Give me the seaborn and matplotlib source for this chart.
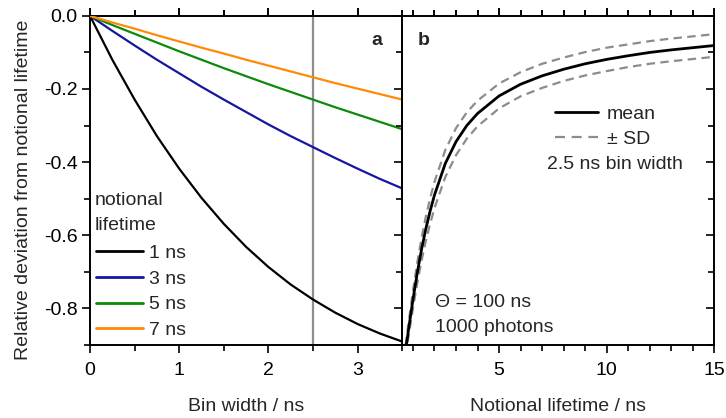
import numpy as np
import pandas as pd
import matplotlib
matplotlib.use("Agg")
import matplotlib.pyplot as plt
import matplotlib.transforms as mtransforms
import seaborn as sns
from matplotlib.ticker import MultipleLocator, FormatStrFormatter
from matplotlib.lines import Line2D

# ---------------- data ----------------
bin_width = [0, 0.25, 0.5, 0.75, 1.0, 1.25, 1.5, 1.75, 2.0, 2.25, 2.5, 2.75, 3.0, 3.25, 3.5]
dev_1ns = [0, -0.120, -0.229, -0.329, -0.418, -0.498, -0.569, -0.632, -0.687, -0.735,
           -0.776, -0.812, -0.843, -0.869, -0.891]
dev_3ns = [0, -0.041, -0.081, -0.120, -0.157, -0.194, -0.229, -0.263, -0.297, -0.329,
           -0.359, -0.389, -0.418, -0.446, -0.472]
dev_5ns = [0, -0.025, -0.049, -0.073, -0.097, -0.120, -0.143, -0.165, -0.187, -0.208,
           -0.229, -0.250, -0.270, -0.290, -0.310]
dev_7ns = [0, -0.018, -0.035, -0.053, -0.070, -0.087, -0.103, -0.120, -0.136, -0.152,
           -0.168, -0.184, -0.199, -0.214, -0.229]
lifetime_labels = ["1 ns", "3 ns", "5 ns", "7 ns"]
lifetime_colors = ["#000000", "#1616a0", "#0b8a0b", "#ff8a0a"]
marked_bin_width = 2.5

tau = [0.65, 0.7, 0.75, 0.8, 0.9, 1.0, 1.2, 1.4, 1.6, 1.8, 2.0, 2.5, 3.0, 3.5, 4.0,
       5.0, 6.0, 7.0, 8.0, 9.0, 10.0, 11.0, 12.0, 13.0, 14.0, 15.0]
mean_dev = [-0.916, -0.897, -0.877, -0.856, -0.816, -0.776, -0.703, -0.638, -0.582, -0.533,
            -0.490, -0.404, -0.344, -0.300, -0.267, -0.219, -0.187, -0.164, -0.146, -0.131,
            -0.119, -0.109, -0.100, -0.093, -0.087, -0.081]
sd_dev = [0.014, 0.015, 0.016, 0.018, 0.021, 0.024, 0.028, 0.031, 0.033, 0.035,
          0.036, 0.037, 0.037, 0.036, 0.035, 0.034, 0.033, 0.033, 0.032, 0.032,
          0.032, 0.031, 0.031, 0.031, 0.031, 0.031]

# ---------------- style ----------------
sns.set_style("ticks")
plt.rcParams["font.family"] = ["Liberation Sans", "DejaVu Sans"]
plt.rcParams["axes.unicode_minus"] = False
FS = 14
plt.rcParams["font.size"] = FS

fig = plt.figure(figsize=(7.26, 4.18), dpi=100)
ax_a = fig.add_axes([0.124, 0.175, 0.430, 0.787])
ax_b = fig.add_axes([0.554, 0.175, 0.430, 0.787], sharey=ax_a)

# ---------------- panel a ----------------
ax_a.axvline(marked_bin_width, color="#8e8e8e", lw=1.6, zorder=1)
series = [dev_1ns, dev_3ns, dev_5ns, dev_7ns]
df_a = pd.DataFrame({
    "bin": bin_width * 4,
    "dev": sum(series, []),
    "lifetime": sum([[lab] * len(bin_width) for lab in lifetime_labels], []),
})
sns.lineplot(data=df_a, x="bin", y="dev", hue="lifetime", palette=lifetime_colors,
             hue_order=lifetime_labels, ax=ax_a, lw=1.6, legend=False, zorder=3)
handles_a = [Line2D([], [], color=c, lw=2) for c in lifetime_colors]
ax_a.legend(handles_a, lifetime_labels, loc="lower left",
            bbox_to_anchor=(-0.03, -0.03), frameon=False,
            fontsize=FS, handlelength=2.4, handletextpad=0.3,
            labelspacing=0.42, borderpad=0.3)
ax_a.text(0.016, 0.438, "notional", transform=ax_a.transAxes, fontsize=FS,
          ha="left", va="center")
ax_a.text(0.016, 0.362, "lifetime", transform=ax_a.transAxes, fontsize=FS,
          ha="left", va="center")
ax_a.set_xlim(0, 3.5)
ax_a.set_ylim(-0.9, 0)
ax_a.set_xlabel("Bin width / ns", fontsize=FS, labelpad=14)
ax_a.set_ylabel("Relative deviation from notional lifetime", fontsize=FS)
ax_a.yaxis.set_label_coords(-0.185, 0.47)
ax_a.text(0.92, 0.925, "a", transform=ax_a.transAxes, fontsize=FS, fontweight="bold",
          ha="center", va="center")

# ---------------- panel b ----------------
mean_arr = np.array(mean_dev)
sd_arr = np.array(sd_dev)
DASH = (3.8, 2.4)
sns.lineplot(x=tau, y=mean_arr + sd_arr, ax=ax_b, color="#8c8c8c", lw=1.6, zorder=2)
ax_b.lines[-1].set_dashes(DASH)
sns.lineplot(x=tau, y=mean_arr - sd_arr, ax=ax_b, color="#8c8c8c", lw=1.6, zorder=2)
ax_b.lines[-1].set_dashes(DASH)
sns.lineplot(x=tau, y=mean_arr, ax=ax_b, color="black", lw=2.0, zorder=3)
handles_b = [Line2D([], [], color="black", lw=2.0),
             Line2D([], [], color="#8c8c8c", lw=1.6, dashes=(4.5, 3.0))]
ax_b.legend(handles_b, ["mean", "± SD"], loc="upper left",
            bbox_to_anchor=(0.44, 0.775), frameon=False, fontsize=FS,
            handlelength=2.2, handletextpad=0.45, labelspacing=0.38, borderpad=0.3)
ax_b.text(0.465, 0.547, "2.5 ns bin width", transform=ax_b.transAxes, fontsize=FS,
          ha="left", va="center")
ax_b.text(0.105, 0.128, "Θ = 100 ns", transform=ax_b.transAxes, fontsize=FS,
          ha="left", va="center")
ax_b.text(0.105, 0.052, "1000 photons", transform=ax_b.transAxes, fontsize=FS,
          ha="left", va="center")
ax_b.text(0.07, 0.925, "b", transform=ax_b.transAxes, fontsize=FS, fontweight="bold",
          ha="center", va="center")
ax_b.set_xlim(0.5, 15)
ax_b.set_xlabel("Notional lifetime / ns", fontsize=FS, labelpad=14)
ax_b.set_ylabel("")

# ---------------- ticks & spines ----------------
x_major = {ax_a: 1, ax_b: 5}
x_minor = {ax_a: 0.5, ax_b: 1}
ax_a.yaxis.set_major_locator(MultipleLocator(0.2))
ax_a.yaxis.set_minor_locator(MultipleLocator(0.1))
ax_a.yaxis.set_major_formatter(FormatStrFormatter("%.1f"))

for ax in (ax_a, ax_b):
    ax.xaxis.set_major_locator(MultipleLocator(x_major[ax]))
    ax.xaxis.set_minor_locator(MultipleLocator(x_minor[ax]))
    for sp in ax.spines.values():
        sp.set_visible(True)
        sp.set_linewidth(1.4)
        sp.set_color("black")
    ax.tick_params(axis="x", which="both", direction="out", bottom=True, top=True,
                   labelbottom=True, labeltop=False, width=1.2, color="black",
                   labelsize=FS, pad=6, labelcolor="black")
    ax.tick_params(axis="x", which="major", length=6)
    ax.tick_params(axis="x", which="minor", length=4)

ax_a.tick_params(axis="y", which="both", direction="out", left=True, right=False,
                 width=1.2, color="black", labelsize=FS, pad=3, labelcolor="black")
ax_a.tick_params(axis="y", which="major", length=6)
ax_a.tick_params(axis="y", which="minor", length=4)

ax_b.tick_params(axis="y", which="both", direction="in", left=False, right=True,
                 labelleft=False, width=1.2, color="black")
ax_b.tick_params(axis="y", which="major", length=6)
ax_b.tick_params(axis="y", which="minor", length=4)
# ticks on the shared spine pointing into panel a
sec = ax_b.secondary_yaxis("left")
sec.yaxis.set_major_locator(MultipleLocator(0.2))
sec.yaxis.set_minor_locator(MultipleLocator(0.1))
sec.tick_params(axis="y", which="both", direction="out", labelleft=False, width=1.2,
                color="black")
sec.tick_params(axis="y", which="major", length=6)
sec.tick_params(axis="y", which="minor", length=4)
sec.spines["left"].set_linewidth(1.4)

# top-edge tick marks, placed at the locator positions, pointing outwards
for ax in (ax_a, ax_b):
    trans = mtransforms.blended_transform_factory(ax.transData, ax.transAxes)
    lo, hi = ax.get_xlim()
    for locs, size in ((ax.xaxis.get_majorticklocs(), 6), (ax.xaxis.get_minorticklocs(), 4)):
        for loc in locs:
            if lo - 1e-9 <= loc <= hi + 1e-9:
                frac = size * 100 / 72 / (ax.get_position().height * 418)
                ax.add_line(Line2D([loc, loc], [1.0, 1.0 + frac], transform=trans,
                                   color="black", lw=1.2, clip_on=False,
                                   solid_capstyle="butt", zorder=5))

fig.savefig("out.png", dpi=100)
